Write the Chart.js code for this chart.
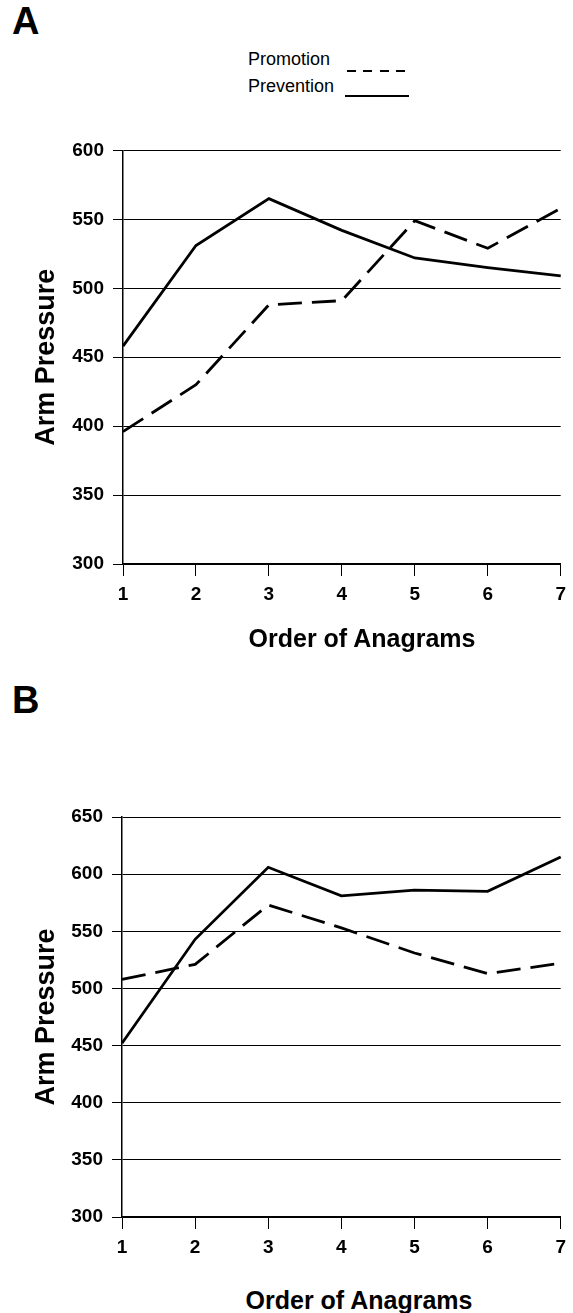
<!DOCTYPE html>
<html>
<head>
<meta charset="utf-8">
<script src="https://cdn.jsdelivr.net/npm/chart.js@4.4.1/dist/chart.umd.min.js"></script>
<style>
  body { margin:0; background:#fff; width:573px; height:1313px; position:relative; overflow:hidden;
         font-family:"Liberation Sans", Arial, sans-serif; color:#000; }
  canvas { position:absolute; left:0; }
  .panel { position:absolute; font-weight:bold; font-size:38px; left:12px; }
  .legend { position:absolute; left:248px; top:46px; width:180px; height:60px; font-size:18px; line-height:27px; }
  .legend div { white-space:nowrap; }
  .mark { position:absolute; height:2px; }
  .dash { left:99px; top:24px; width:58px; background:repeating-linear-gradient(90deg,#000 0 9px,transparent 9px 16.3px); }
  .solid { left:97px; top:49px; width:64px; background:#000; }
  .xtitle { position:absolute; font-weight:bold; font-size:25px; transform:translate(-50%,-50%); white-space:nowrap; }
</style>
</head>
<body>
<div class="panel" style="top:0px">A</div>
<div class="legend">
  <div>Promotion</div>
  <div>Prevention</div>
  <span class="mark dash"></span>
  <span class="mark solid"></span>
</div>
<canvas id="chartA" width="573" height="520" style="top:130px"></canvas>
<div class="xtitle" style="left:362px;top:638px">Order of Anagrams</div>

<div class="panel" style="top:679px">B</div>
<canvas id="chartB" width="573" height="480" style="top:790px"></canvas>
<div class="xtitle" style="left:359px;top:1300px">Order of Anagrams</div>

<script>
// data
const orders = ['1', '2', '3', '4', '5', '6', '7'];
const preventionA = [458, 531, 565, 542, 522, 515, 509];
const promotionA = [396, 430, 488, 491, 549, 529, 558];
const preventionB = [452, 543, 606, 581, 586, 585, 615];
const promotionB = [508, 521, 573, 553, 531, 513, 522];
const yMinA = 300, yMaxA = 600;
const yMinB = 300, yMaxB = 650;

Chart.defaults.font.family = '"Liberation Sans", Arial, sans-serif';
Chart.defaults.color = '#000';

function makeChart(id, prevention, promotion, yMin, yMax, pad, xHeight) {
  const ctx = document.getElementById(id).getContext('2d');
  return new Chart(ctx, {
    type: 'line',
    data: {
      labels: orders,
      datasets: [
        { label: 'Prevention', data: prevention, borderColor: '#000', borderWidth: 2.8,
          pointRadius: 0, tension: 0, fill: false },
        { label: 'Promotion', data: promotion, borderColor: '#000', borderWidth: 2.8,
          borderDash: [24, 10], pointRadius: 0, tension: 0, fill: false }
      ]
    },
    options: {
      responsive: false, animation: false, devicePixelRatio: 1,
      layout: { padding: pad },
      plugins: { legend: { display: false }, tooltip: { enabled: false } },
      scales: {
        x: {
          offset: false,
          grid: { drawOnChartArea: false, drawTicks: true, tickLength: 12, color: '#000' },
          border: { color: '#000', width: 1.5 },
          ticks: { font: { size: 19, weight: 'bold' }, padding: 7, maxRotation: 0 },
          afterFit: s => { s.height = xHeight; }
        },
        y: {
          min: yMin, max: yMax,
          grid: { color: '#000', lineWidth: 1, tickLength: 10 },
          border: { color: '#000', width: 1.5 },
          ticks: { stepSize: 50, font: { size: 19, weight: 'bold' }, padding: 9 },
          title: { display: true, text: 'Arm Pressure', font: { size: 27, weight: 'bold' },
                   padding: { top: 30, bottom: 0 } },
          afterFit: s => { s.width = pad.yWidth; }
        }
      }
    }
  });
}

makeChart('chartA', preventionA, promotionA, yMinA, yMaxA,
  { top: 17, right: 9, left: 0, bottom: 0, yWidth: 123 }, 86);
makeChart('chartB', preventionB, promotionB, yMinB, yMaxB,
  { top: 27, right: 11, left: 0, bottom: 0, yWidth: 122 }, 53);
</script>
</body>
</html>
